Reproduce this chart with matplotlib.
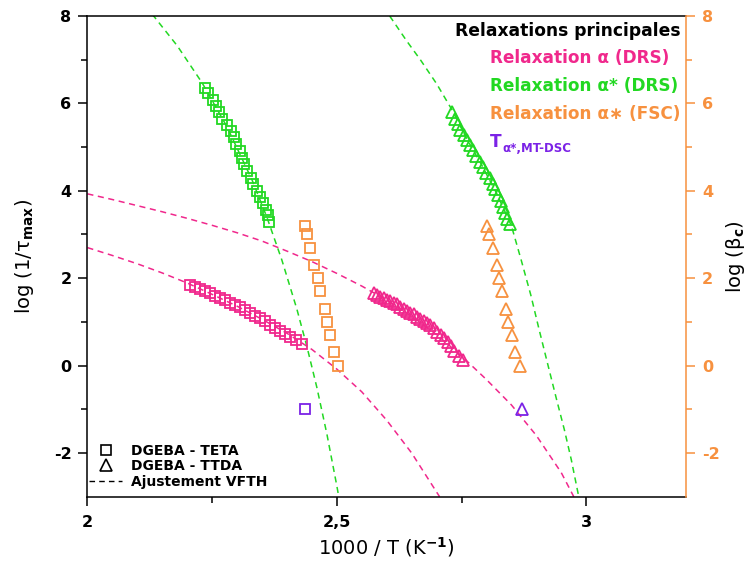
import matplotlib.pyplot as plt
from matplotlib.lines import Line2D

plt.rcParams['font.family'] = 'DejaVu Sans'
plt.rcParams['font.weight'] = 'bold'
plt.rcParams['mathtext.default'] = 'bf'
plt.rcParams['axes.unicode_minus'] = False

PINK = '#F0288C'
GREEN = '#22D822'
ORANGE = '#F7913F'
PURPLE = '#7B22E6'

# DGEBA - TETA : relaxation alpha (DRS)
teta_a_x = [2.206, 2.216, 2.226, 2.236, 2.246, 2.256, 2.266, 2.276, 2.286, 2.296, 2.306, 2.316,
            2.326, 2.336, 2.346, 2.356, 2.366, 2.376, 2.386, 2.396, 2.406, 2.418, 2.430]
teta_a_y = [1.84, 1.80, 1.75, 1.70, 1.65, 1.60, 1.54, 1.49, 1.43, 1.38, 1.33, 1.27,
            1.21, 1.14, 1.08, 1.01, 0.94, 0.87, 0.80, 0.73, 0.66, 0.58, 0.50]

# DGEBA - TETA : relaxation alpha* (DRS)
teta_as_x = [2.236, 2.241, 2.251, 2.258, 2.263, 2.270, 2.280, 2.288, 2.293, 2.298, 2.305,
             2.310, 2.314, 2.320, 2.327, 2.332, 2.340, 2.347, 2.352, 2.359, 2.363, 2.365]
teta_as_y = [6.36, 6.23, 6.08, 5.95, 5.80, 5.64, 5.50, 5.37, 5.22, 5.07, 4.91,
             4.76, 4.61, 4.45, 4.30, 4.16, 3.99, 3.85, 3.72, 3.57, 3.44, 3.28]

# DGEBA - TETA : FSC (log beta_c, right axis)
teta_fsc_x = [2.437, 2.440, 2.446, 2.455, 2.462, 2.467, 2.476, 2.480, 2.487, 2.495, 2.502]
teta_fsc_y = [3.2, 3.0, 2.7, 2.3, 2.0, 1.7, 1.3, 1.0, 0.7, 0.3, 0.0]

# DGEBA - TTDA : relaxation alpha (DRS)
ttda_a_x = [2.574, 2.581, 2.587, 2.594, 2.600, 2.607, 2.614, 2.620, 2.627, 2.634, 2.640, 2.647,
            2.654, 2.660, 2.667, 2.674, 2.680, 2.687, 2.694, 2.701, 2.708, 2.715, 2.722,
            2.729, 2.735, 2.744, 2.752]
ttda_a_y = [1.65, 1.61, 1.57, 1.54, 1.50, 1.47, 1.43, 1.40, 1.35, 1.30, 1.26, 1.21,
            1.17, 1.12, 1.07, 1.02, 0.97, 0.92, 0.85, 0.77, 0.70, 0.62, 0.53,
            0.44, 0.34, 0.23, 0.12]

# DGEBA - TTDA : relaxation alpha* (DRS)
ttda_as_x = [2.731, 2.736, 2.742, 2.747, 2.754, 2.760, 2.767, 2.774, 2.780, 2.787, 2.794,
             2.800, 2.807, 2.813, 2.818, 2.823, 2.829, 2.833, 2.837, 2.842, 2.847]
ttda_as_y = [5.80, 5.64, 5.53, 5.40, 5.27, 5.16, 5.05, 4.93, 4.80, 4.67, 4.54,
             4.41, 4.30, 4.16, 4.03, 3.90, 3.76, 3.62, 3.49, 3.36, 3.24]

# DGEBA - TTDA : FSC (log beta_c, right axis)
ttda_fsc_x = [2.802, 2.805, 2.814, 2.821, 2.826, 2.832, 2.839, 2.843, 2.851, 2.857, 2.867]
ttda_fsc_y = [3.2, 3.0, 2.7, 2.3, 2.0, 1.7, 1.3, 1.0, 0.7, 0.3, 0.0]

# MT-DSC points
mtdsc_teta = (2.437, -1.0)
mtdsc_ttda = (2.871, -1.0)

# VFTH fits
fit_teta_a_x = [2.0, 2.05, 2.10, 2.15, 2.20, 2.25, 2.30, 2.35, 2.40, 2.45, 2.50, 2.55, 2.60, 2.65, 2.706]
fit_teta_a_y = [2.70, 2.52, 2.33, 2.12, 1.89, 1.63, 1.36, 1.06, 0.74, 0.37, -0.08, -0.60, -1.25, -2.0, -3.0]

fit_ttda_a_x = [2.0, 2.05, 2.10, 2.15, 2.20, 2.25, 2.30, 2.35, 2.40, 2.45, 2.50, 2.55, 2.60,
                2.65, 2.70, 2.75, 2.80, 2.85, 2.90, 2.95, 2.975]
fit_ttda_a_y = [3.93, 3.80, 3.66, 3.52, 3.37, 3.21, 3.04, 2.85, 2.62, 2.38, 2.11, 1.82, 1.50,
                1.13, 0.71, 0.22, -0.32, -0.90, -1.60, -2.45, -3.0]

fit_teta_as_x = [2.13, 2.18, 2.23, 2.28, 2.33, 2.36, 2.39, 2.42, 2.44, 2.46, 2.48, 2.50, 2.505]
fit_teta_as_y = [8.04, 7.32, 6.47, 5.46, 4.25, 3.39, 2.41, 1.29, 0.44, -0.50, -1.56, -2.75, -3.07]

fit_ttda_as_x = [2.606, 2.640, 2.668, 2.700, 2.731, 2.760, 2.790, 2.820, 2.850, 2.870, 2.889,
                 2.905, 2.922, 2.940, 2.956, 2.970, 2.985]
fit_ttda_as_y = [8.0, 7.43, 6.99, 6.45, 5.85, 5.20, 4.60, 3.95, 3.20, 2.40, 1.61,
                 0.85, 0.07, -0.75, -1.46, -2.15, -3.0]

DASH = (4, 3)

fig = plt.figure(figsize=(7.56, 5.81), dpi=100)
ax = fig.add_axes([0.1156, 0.1451, 0.7918, 0.8274])
ax2 = ax.twinx()

# fit curves
ax.plot(fit_teta_a_x, fit_teta_a_y, color=PINK, lw=1.1, dashes=DASH, zorder=1)
ax.plot(fit_ttda_a_x, fit_ttda_a_y, color=PINK, lw=1.1, dashes=DASH, zorder=1)
ax.plot(fit_teta_as_x, fit_teta_as_y, color=GREEN, lw=1.1, dashes=DASH, zorder=1)
ax.plot(fit_ttda_as_x, fit_ttda_as_y, color=GREEN, lw=1.1, dashes=DASH, zorder=1)

sq = dict(ls='none', marker='s', mfc='none', ms=6.8, mew=1.3)
tri = dict(ls='none', marker='^', mfc='none', ms=8.3, mew=1.3)

ax.plot(teta_a_x, teta_a_y, mec=PINK, **sq)
ax.plot(teta_as_x, teta_as_y, mec=GREEN, **sq)
ax.plot(ttda_a_x, ttda_a_y, mec=PINK, **tri)
ax.plot(ttda_as_x, ttda_as_y, mec=GREEN, **tri)

ax2.plot(teta_fsc_x, teta_fsc_y, mec=ORANGE, **sq)
ax2.plot(ttda_fsc_x, ttda_fsc_y, mec=ORANGE, **tri)
ax2.plot([mtdsc_teta[0]], [mtdsc_teta[1]], mec=PURPLE, **sq)
ax2.plot([mtdsc_ttda[0]], [mtdsc_ttda[1]], mec=PURPLE, **tri)

ax.set_xlim(2, 3.2)
ax.set_ylim(-3, 8)
ax2.set_ylim(-3, 8)

ax.set_xticks([2, 2.5, 3])
ax.set_xticklabels(['2', '2,5', '3'])
ax.set_xticks([2.25, 2.75], minor=True)
ax.set_yticks([-2, 0, 2, 4, 6, 8])
ax.set_yticks([-1, 1, 3, 5, 7], minor=True)
ax2.set_yticks([-2, 0, 2, 4, 6, 8])
ax2.set_yticks([-1, 1, 3, 5, 7], minor=True)

ax.tick_params(which='major', length=6.5, width=1.1, labelsize=11.5, pad=5)
ax.tick_params(which='minor', length=4, width=1.1)
ax.tick_params(axis='x', pad=7)
ax2.tick_params(which='major', length=6.5, width=1.1, labelsize=11.5, pad=5,
                color=ORANGE, labelcolor=ORANGE)
ax2.tick_params(which='minor', length=4, width=1.1, color=ORANGE)

for s in ['left', 'bottom', 'top']:
    ax.spines[s].set_linewidth(1.1)
ax.spines['right'].set_visible(False)
for s in ['left', 'bottom', 'top']:
    ax2.spines[s].set_visible(False)
ax2.spines['right'].set_color(ORANGE)
ax2.spines['right'].set_linewidth(1.1)

ax.set_xlabel('1000 / T (K$^{-1}$)', fontsize=14, labelpad=3)
ax.set_ylabel('log (1/τ$_{max}$)', fontsize=14, labelpad=13)
ax2.set_ylabel('log (β$_{c}$)', fontsize=14, labelpad=3)

# legend of relaxations (top right)
W, H = 756, 581
fig.text(455 / W, 1 - 36 / H, 'Relaxations principales', fontsize=12.3, color='black', va='baseline')
fig.text(490 / W, 1 - 63 / H, 'Relaxation α (DRS)', fontsize=12.2, color=PINK, va='baseline')
fig.text(490 / W, 1 - 91 / H, 'Relaxation α* (DRS)', fontsize=12.2, color=GREEN, va='baseline')
fig.text(490 / W, 1 - 119 / H, 'Relaxation α∗ (FSC)', fontsize=12.2, color=ORANGE, va='baseline')
fig.text(490 / W, 1 - 147 / H, 'T', fontsize=12.2, color=PURPLE, va='baseline')
fig.text(502 / W, 1 - 152 / H, 'α*,MT-DSC', fontsize=8.5, color=PURPLE, va='baseline')

# legend of systems (bottom left)
handles = [
    Line2D([], [], ls='none', marker='s', mfc='none', mec='black', ms=7, mew=1.2),
    Line2D([], [], ls='none', marker='^', mfc='none', mec='black', ms=8, mew=1.2),
    Line2D([], [], color='black', lw=1.0, dashes=DASH),
]
ax.legend(handles, ['DGEBA - TETA', 'DGEBA - TTDA', 'Ajustement VFTH'],
          loc='lower left', bbox_to_anchor=(-0.008, 0.004), frameon=False, fontsize=10,
          handlelength=2.4, handletextpad=0.6, labelspacing=0.1, borderaxespad=0.25,
          borderpad=0.2)

fig.savefig('out.png', dpi=100)
